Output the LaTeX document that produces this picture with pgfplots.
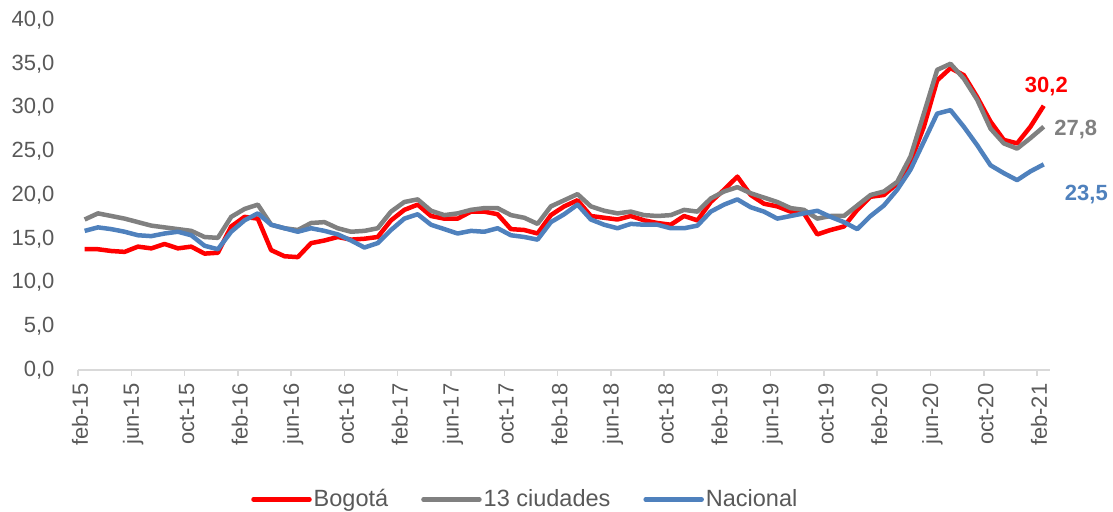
\documentclass[border=0pt]{standalone}
\usepackage{fontspec}
\setmainfont{Liberation Sans}
\usepackage{pgfplots}
\usepackage{pgfplotstable}
\pgfplotsset{compat=1.18}

\definecolor{bogred}{RGB}{255,0,0}
\definecolor{ciugray}{RGB}{128,128,128}
\definecolor{nacblue}{RGB}{79,129,189}
\definecolor{txtgray}{RGB}{89,89,89}
\definecolor{axgray}{RGB}{217,217,217}

% tasa de desempleo, feb-15 ... feb-21 (mes 0 = feb-15)
\pgfplotstableread{
m  bog   c13   nac
0  13.8  17.2  15.9
1  13.8  17.9  16.3
2  13.6  17.6  16.1
3  13.5  17.3  15.8
4  14.1  16.9  15.4
5  13.9  16.5  15.3
6  14.4  16.3  15.6
7  13.9  16.1  15.8
8  14.1  15.9  15.4
9  13.3  15.2  14.2
10 13.4  15.1  13.8
11 16.4  17.5  15.8
12 17.5  18.4  17.1
13 17.3  18.9  17.9
14 13.7  16.6  16.6
15 13.0  16.2  16.2
16 12.9  16.0  15.8
17 14.5  16.8  16.2
18 14.8  16.9  15.9
19 15.2  16.2  15.5
20 14.9  15.8  14.8
21 15.0  15.9  14.0
22 15.2  16.2  14.5
23 17.1  18.1  16.0
24 18.3  19.2  17.3
25 18.9  19.5  17.8
26 17.6  18.2  16.6
27 17.3  17.7  16.1
28 17.3  17.9  15.6
29 18.1  18.3  15.9
30 18.1  18.5  15.8
31 17.8  18.5  16.2
32 16.1  17.7  15.4
33 16.0  17.4  15.2
34 15.6  16.7  14.9
35 17.7  18.7  16.9
36 18.7  19.4  17.8
37 19.4  20.1  18.9
38 17.6  18.7  17.2
39 17.4  18.2  16.6
40 17.2  17.9  16.2
41 17.6  18.1  16.7
42 17.1  17.7  16.6
43 16.8  17.6  16.6
44 16.6  17.7  16.2
45 17.6  18.3  16.2
46 17.1  18.1  16.5
47 19.2  19.6  18.1
48 20.6  20.4  18.9
49 22.1  20.9  19.5
50 20.0  20.2  18.6
51 19.0  19.7  18.1
52 18.7  19.2  17.3
53 18.1  18.5  17.6
54 17.9  18.3  17.9
55 15.5  17.3  18.2
56 16.0  17.6  17.5
57 16.4  17.6  16.9
58 18.3  18.8  16.1
59 19.8  20.0  17.6
60 20.0  20.4  18.8
61 21.3  21.5  20.6
62 23.8  24.4  22.9
63 27.8  29.3  26.1
64 33.1  34.3  29.3
65 34.5  35.0  29.7
66 33.7  33.3  27.8
67 31.2  30.9  25.7
68 28.4  27.6  23.4
69 26.3  25.9  22.5
70 25.9  25.3  21.7
71 27.8  26.5  22.7
72 30.2  27.8  23.5
}\desempleo

\begin{document}
\fontsize{22bp}{26bp}\selectfont
\begin{tikzpicture}
\useasboundingbox (0,0) rectangle (1113bp,512bp);
\begin{axis}[
  at={(78bp,142bp)}, anchor=south west,
  scale only axis, width=972.4bp, height=350bp,
  xmin=-0.5, xmax=72.5, ymin=0, ymax=40,
  clip=false,
  axis y line*=left, axis x line*=bottom,
  y axis line style={draw=none},
  x axis line style={draw=axgray, line width=1.5bp},
  xtick={-0.5,3.5,...,71.5},
  xticklabels={feb-15,jun-15,oct-15,feb-16,jun-16,oct-16,feb-17,jun-17,oct-17,
    feb-18,jun-18,oct-18,feb-19,jun-19,oct-19,feb-20,jun-20,oct-20,feb-21},
  x tick style={draw=axgray, line width=1.5bp},
  tick align=outside, major tick length=6bp,
  xticklabel style={rotate=90, anchor=east, text=txtgray, font=\fontsize{22bp}{26bp}\selectfont, yshift=-2bp},
  ytick={0,5,...,40},
  y tick style={draw=none},
  yticklabel style={text=txtgray, font=\fontsize{22bp}{26bp}\selectfont, xshift=-10bp},
  /pgf/number format/.cd, fixed, fixed zerofill, precision=1, use comma, assume math mode=true,
  /pgfplots/.cd,
  legend columns=3,
  legend style={draw=none, at={(0.46,-0.37)}, anchor=center,
    font=\fontsize{23.5bp}{27bp}\selectfont, text=txtgray,
    /tikz/every even column/.append style={column sep=31bp},
    inner sep=0pt},
  legend image code/.code={\draw[#1, line cap=round] (0bp,0bp) -- (56bp,0bp);},
  every axis plot/.append style={line width=4.5bp, line join=round},
]
\addplot[bogred, mark=none] table[x=m, y=bog] {\desempleo};
\addlegendentry{Bogotá}
\addplot[ciugray, mark=none] table[x=m, y=c13] {\desempleo};
\addlegendentry{13 ciudades}
\addplot[nacblue, mark=none] table[x=m, y=nac] {\desempleo};
\addlegendentry{Nacional}

\node[text=bogred, font=\bfseries\fontsize{22bp}{26bp}\selectfont] at (axis cs:72.2,32.4) {30,2};
\node[text=ciugray, font=\bfseries\fontsize{22bp}{26bp}\selectfont] at (axis cs:74.4,27.5) {27,8};
\node[text=nacblue, font=\bfseries\fontsize{22bp}{26bp}\selectfont] at (axis cs:75.2,20.1) {23,5};
\end{axis}
\end{tikzpicture}
\end{document}
